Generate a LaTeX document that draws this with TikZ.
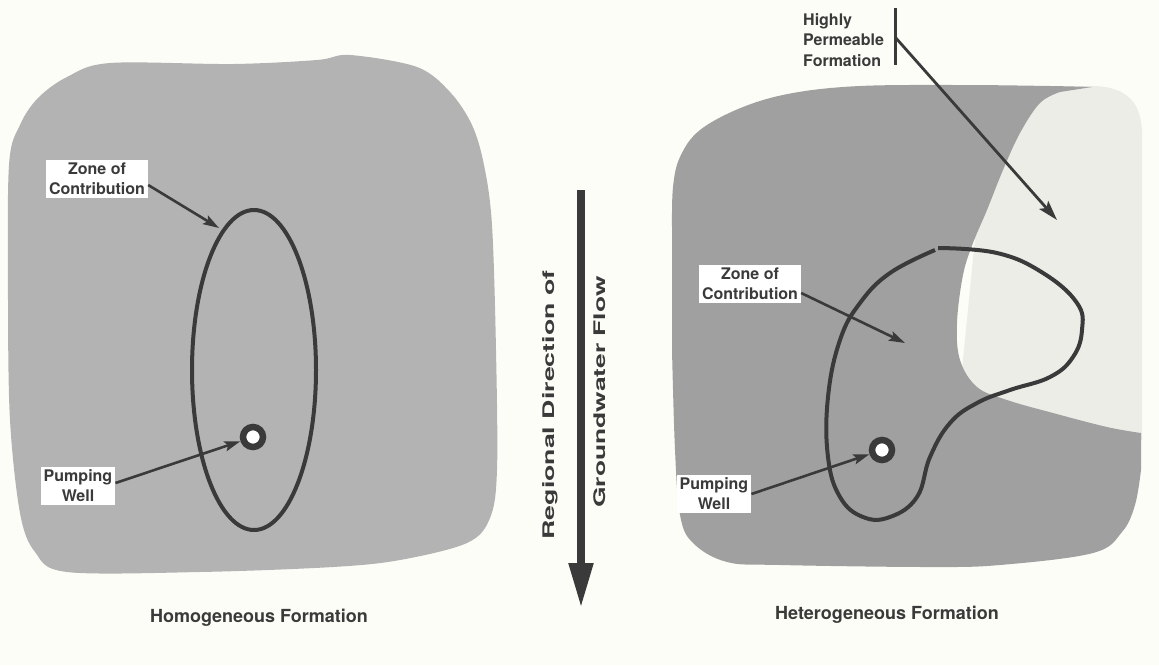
\documentclass[tikz,border=0pt]{standalone}
\usepackage{fontspec}
\setmainfont{TeX Gyre Heros}
\usetikzlibrary{arrows.meta}
\definecolor{bgc}{HTML}{FDFDF8}
\definecolor{homog}{HTML}{B3B3B3}
\definecolor{hetdark}{HTML}{A0A0A0}
\definecolor{hetlight}{HTML}{EDEDE8}
\definecolor{ink}{HTML}{3A3A3A}
\tikzset{
  lbl/.style={fill=white, text=ink, font=\fontsize{16}{20}\selectfont\bfseries, align=center, inner sep=3pt},
  plainlbl/.style={text=ink, font=\fontsize{16}{20.5}\selectfont\bfseries},
  caplbl/.style={text=ink, font=\fontsize{18}{22}\selectfont\bfseries},
  contour/.style={draw=ink, line width=4pt},
  ptr/.style={draw=ink, line width=2.6pt, -{Stealth[length=16pt,width=10pt,inset=3pt]}},
  bigptr/.style={draw=ink, line width=2.8pt, -{Stealth[length=20pt,width=12pt,inset=4pt]}},
  wellc/.style={circle, draw=ink, line width=6.5pt, fill=white, minimum size=20pt, inner sep=0pt},
}
\begin{document}
\begin{tikzpicture}[x=1pt,y=-1pt]
\useasboundingbox (0,0) rectangle (1159,665);
\fill[bgc] (0,0) rectangle (1159,665);

% left panel: homogeneous formation
\fill[homog] plot[smooth cycle, tension=0.55] coordinates {(9,165) (20,125) (38,98) (67,77) (110,63) (233,64) (317,60) (350,55) (417,67) (450,92) (472,125) (484,165) (492,225) (496,350) (497,470) (490,518) (467,543) (400,560) (333,567) (200,572) (67,572) (35,552) (20,513) (10,420) (8,300)};

% right panel: heterogeneous formation
\fill[hetlight] (990,88) -- (1096,86) .. controls (1125,88) and (1140,100) .. (1142,130) -- (1142,440) -- (955,440) -- cycle;
\fill[hetdark] plot[smooth, tension=0.6] coordinates {(672,227) (673,187) (680,157) (700,130) (743,107) (793,93) (860,86) (960,85) (1050,86) (1092,87)}
  -- plot[smooth, tension=0.6] coordinates {(1060,92) (1040,103) (1020,133) (1003,170) (987,210) (973,243) (963,275) (957,323) (960,360) (977,387) (1007,400) (1053,413) (1107,427) (1141,433)}
  -- plot[smooth, tension=0.6] coordinates {(1141,470) (1135,505) (1122,532) (1093,553) (1000,565) (927,567) (780,565) (727,562) (693,543) (680,515) (675,450) (672,350)}
  -- cycle;

% zones of contribution
\draw[contour] (254,370) ellipse [x radius=62pt, y radius=160pt];
\draw[contour] plot[smooth, tension=0.7] coordinates {(938,248) (997,253) (1043,273) (1077,303) (1082,330) (1073,357) (1050,377) (1010,390) (977,403) (950,423) (930,457) (917,497) (890,517) (863,517) (840,497) (828,457) (828,397) (840,340) (860,303) (890,273) (935,250)};

% wells
\node[wellc] (w1) at (253,437) {};
\node[wellc] (w2) at (882,450) {};

% labels
\node[lbl] (zc1) at (97,179) {Zone of\\Contribution};
\node[lbl] (pw1) at (78,486) {Pumping\\Well};
\node[lbl] (zc2) at (750,284) {Zone of\\Contribution};
\node[lbl] (pw2) at (714,494) {Pumping\\Well};
\node[plainlbl, align=left, anchor=north west, inner sep=0pt] (hp) at (803,13) {Highly\\Permeable\\Formation};

\node[caplbl] (homlab) at (259,618) {Homogeneous Formation};
\node[caplbl] (hetlab) at (887,615) {Heterogeneous Formation};

\node[plainlbl, rotate=90] (reg) at (550,405) {\scalebox{1.67}[1]{Regional Direction of}};
\node[plainlbl, rotate=90] (gw) at (600,392) {\scalebox{1.65}[1]{Groundwater Flow}};

% connectors
\coordinate (zc1tip) at (219,228);
\coordinate (zc2tip) at (905,343);
\coordinate (bartop) at (895,8);
\coordinate (barbot) at (895,65);
\coordinate (barmid) at (895,37);
\coordinate (hptip) at (1057,220);
\coordinate (flowtop) at (581,190);
\coordinate (flowtip) at (581,608);

\draw[ptr] ([yshift=-6pt]zc1.east) -- (zc1tip);
\draw[ptr] ([yshift=3pt]pw1.east) -- (w1);
\draw[ptr] ([yshift=-9pt]zc2.east) -- (zc2tip);
\draw[ptr] (pw2.east) -- (w2);
\draw[draw=ink, line width=3pt] (bartop) -- (barbot);
\draw[bigptr] (barmid) -- (hptip);
\draw[draw=ink, line width=8pt, -{Triangle[length=45pt,width=23pt]}] (flowtop) -- (flowtip);
\end{tikzpicture}
\end{document}
